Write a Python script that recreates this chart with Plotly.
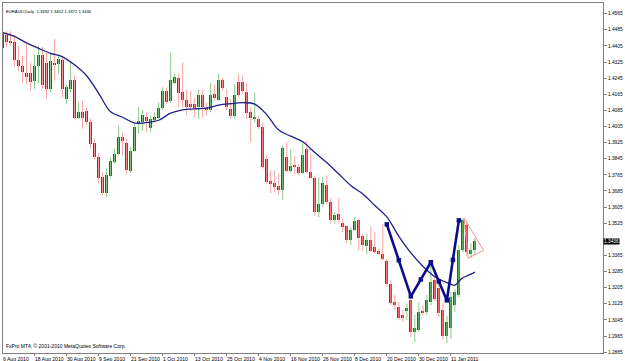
import plotly.graph_objects as go

# ---------------- data ----------------
opens = [1.4395, 1.4460, 1.4430, 1.4422, 1.4336, 1.4306, 1.4272, 1.4272, 1.4232, 1.4304,
         1.4361, 1.4321, 1.4192, 1.4319, 1.4315, 1.4333, 1.4143, 1.4192, 1.4235, 1.4045,
         1.4075, 1.4080, 1.4029, 1.3925, 1.3852, 1.3753, 1.3673, 1.3760, 1.3827, 1.3866,
         1.3955, 1.3922, 1.3783, 1.3885, 1.4018, 1.4025, 1.4050, 1.3998, 1.4037, 1.4047,
         1.4097, 1.4182, 1.4133, 1.4223, 1.4248, 1.4174, 1.4136, 1.4117, 1.4117, 1.4100,
         1.4163, 1.4093, 1.4087, 1.4166, 1.4138, 1.4237, 1.4149, 1.4092, 1.4059, 1.4228,
         1.4228, 1.4174, 1.4075, 1.4047, 1.4042, 1.4004, 1.3844, 1.3733, 1.3724, 1.3712,
         1.3692, 1.3856, 1.3783, 1.3813, 1.3806, 1.3775, 1.3894, 1.3781, 1.3750, 1.3580,
         1.3618, 1.3717, 1.3630, 1.3539, 1.3569, 1.3526, 1.3509, 1.3443, 1.3493, 1.3539,
         1.3460, 1.3410, 1.3440, 1.3407, 1.3385, 1.3374, 1.3336, 1.3221, 1.3132, 1.3110,
         1.3069, 1.3088, 1.3143, 1.2986, 1.2994, 1.3088, 1.3085, 1.3134, 1.3242, 1.3201,
         1.3093, 1.2965, 1.3006, 1.3118, 1.3168, 1.3390, 1.3514, 1.3371, 1.3392]
highs = [1.4529, 1.4479, 1.4479, 1.4460, 1.4405, 1.4356, 1.4415, 1.4321, 1.4361, 1.4405,
         1.4400, 1.4371, 1.4371, 1.4440, 1.4356, 1.4348, 1.4212, 1.4331, 1.4257, 1.4128,
         1.4133, 1.4098, 1.4044, 1.3945, 1.3871, 1.3777, 1.3796, 1.3851, 1.3895, 1.4009,
         1.3975, 1.3945, 1.3902, 1.4014, 1.4100, 1.4088, 1.4075, 1.4059, 1.4075, 1.4124,
         1.4199, 1.4199, 1.4372, 1.4267, 1.4267, 1.4322, 1.4187, 1.4182, 1.4149, 1.4187,
         1.4187, 1.4124, 1.4223, 1.4216, 1.4268, 1.4248, 1.4191, 1.4141, 1.4216, 1.4265,
         1.4257, 1.4223, 1.4100, 1.4174, 1.4059, 1.4025, 1.3861, 1.3786, 1.3786, 1.3770,
         1.3910, 1.3926, 1.3894, 1.3861, 1.3820, 1.3926, 1.3935, 1.3869, 1.3762, 1.3753,
         1.3753, 1.3762, 1.3651, 1.3580, 1.3651, 1.3547, 1.3514, 1.3506, 1.3555, 1.3547,
         1.3473, 1.3473, 1.3506, 1.3481, 1.3399, 1.3523, 1.3349, 1.3242, 1.3168, 1.3134,
         1.3093, 1.3127, 1.3184, 1.3069, 1.3133, 1.3118, 1.3168, 1.3316, 1.3267, 1.3227,
         1.3127, 1.3064, 1.3183, 1.3197, 1.3415, 1.3550, 1.3534, 1.3425, 1.3452]
lows = [1.4346, 1.4400, 1.4405, 1.4301, 1.4281, 1.4222, 1.4217, 1.4182, 1.4192, 1.4222,
        1.4192, 1.4143, 1.4173, 1.4232, 1.4267, 1.4149, 1.4118, 1.4174, 1.4041, 1.4042,
        1.3994, 1.4014, 1.3895, 1.3841, 1.3722, 1.3663, 1.3654, 1.3752, 1.3821, 1.3861,
        1.3861, 1.3770, 1.3773, 1.3877, 1.3968, 1.3984, 1.3976, 1.3976, 1.4025, 1.4042,
        1.4087, 1.4120, 1.4124, 1.4217, 1.4100, 1.4100, 1.4059, 1.4083, 1.4050, 1.4042,
        1.4050, 1.4059, 1.4075, 1.4133, 1.4133, 1.4182, 1.4087, 1.4042, 1.4042, 1.4149,
        1.4166, 1.4042, 1.3926, 1.4025, 1.3993, 1.3795, 1.3721, 1.3674, 1.3679, 1.3663,
        1.3641, 1.3778, 1.3778, 1.3770, 1.3762, 1.3770, 1.3770, 1.3745, 1.3564, 1.3555,
        1.3605, 1.3622, 1.3523, 1.3523, 1.3523, 1.3481, 1.3424, 1.3415, 1.3486, 1.3387,
        1.3387, 1.3371, 1.3382, 1.3374, 1.3366, 1.3341, 1.3209, 1.3118, 1.3093, 1.3044,
        1.3035, 1.3044, 1.2960, 1.2935, 1.2985, 1.3069, 1.3069, 1.3118, 1.3138, 1.3060,
        1.2945, 1.2930, 1.2950, 1.3085, 1.3158, 1.3381, 1.3361, 1.3351, 1.3372]
closes = [1.4465, 1.4425, 1.4418, 1.4336, 1.4306, 1.4274, 1.4252, 1.4227, 1.4304, 1.4361,
          1.4211, 1.4192, 1.4331, 1.4309, 1.4342, 1.4191, 1.4199, 1.4235, 1.4045, 1.4075,
          1.4047, 1.4025, 1.3920, 1.3852, 1.3747, 1.3673, 1.3762, 1.3836, 1.3869, 1.3955,
          1.3931, 1.3790, 1.3882, 1.4004, 1.4030, 1.4064, 1.4030, 1.4042, 1.4050, 1.4097,
          1.4182, 1.4129, 1.4237, 1.4252, 1.4169, 1.4136, 1.4100, 1.4100, 1.4097, 1.4163,
          1.4100, 1.4087, 1.4163, 1.4146, 1.4237, 1.4196, 1.4100, 1.4059, 1.4163, 1.4163,
          1.4179, 1.4070, 1.4047, 1.4052, 1.4004, 1.3803, 1.3729, 1.3721, 1.3704, 1.3692,
          1.3899, 1.3786, 1.3811, 1.3806, 1.3775, 1.3864, 1.3778, 1.3750, 1.3580, 1.3618,
          1.3726, 1.3630, 1.3539, 1.3564, 1.3539, 1.3506, 1.3443, 1.3493, 1.3535, 1.3453,
          1.3415, 1.3443, 1.3388, 1.3382, 1.3374, 1.3346, 1.3221, 1.3127, 1.3118, 1.3052,
          1.3052, 1.3102, 1.2985, 1.3003, 1.3084, 1.3081, 1.3143, 1.3231, 1.3151, 1.3077,
          1.2965, 1.3034, 1.3158, 1.3183, 1.3390, 1.3539, 1.3381, 1.3390, 1.3436]

ma_bars = [0, 3, 6, 9, 12, 15, 18, 21, 24, 27, 30, 33, 36, 39, 42, 45, 48, 51, 54, 57,
           60, 63, 66, 69, 72, 75, 78, 81, 84, 87, 90, 93, 96, 99, 102, 105, 108, 111,
           113, 114, 115, 117, 118]
ma_values = [1.4471, 1.4452, 1.4420, 1.4393, 1.4368, 1.4351, 1.4311, 1.4257, 1.4171, 1.4078,
             1.4051, 1.4022, 1.4025, 1.4036, 1.4071, 1.4088, 1.4092, 1.4097, 1.4111, 1.4118,
             1.4123, 1.4116, 1.4064, 1.3987, 1.3957, 1.3929, 1.3876, 1.3826, 1.3769, 1.3712,
             1.3670, 1.3613, 1.3556, 1.3460, 1.3378, 1.3311, 1.3259, 1.3230,
             1.3217, 1.3237, 1.3254, 1.3272, 1.3282]

pattern_bars = [96, 99, 102, 104.5, 107, 109, 111, 112.5, 114]
pattern_values = [1.3519, 1.3341, 1.3162, 1.3246, 1.3331, 1.3236, 1.3142, 1.3343, 1.3539]

triangle_bars = [115.3, 120.2, 116.3, 115.3]
triangle_values = [1.3550, 1.3390, 1.3352, 1.3550]

date_labels = ['6 Aug 2010', '18 Aug 2010', '30 Aug 2010', '9 Sep 2010', '21 Sep 2010',
               '1 Oct 2010', '13 Oct 2010', '25 Oct 2010', '4 Nov 2010', '16 Nov 2010',
               '26 Nov 2010', '8 Dec 2010', '20 Dec 2010', '30 Dec 2010', '11 Jan 2011']
date_bars = [0, 8, 16, 24, 32, 40, 48, 56, 64, 72, 80, 88, 96, 104, 112]

price_ticks = [1.2885, 1.2965, 1.3045, 1.3125, 1.3205, 1.3285, 1.3365, 1.3525, 1.3605,
               1.3685, 1.3765, 1.3845, 1.3925, 1.4005, 1.4085, 1.4165, 1.4245, 1.4325,
               1.4405, 1.4485, 1.4565]
last_price = 1.3436
title_text = "EURAUD,Daily  1.3392 1.3452 1.3372 1.3436"
footer_text = "FxPro MT4, \u00a9 2001-2010 MetaQuotes Software Corp."

# ---------------- figure ----------------
n = len(opens)
bars_idx = list(range(n))
up = [c >= o for o, c in zip(opens, closes)]

fig = go.Figure()

# wicks
for is_up, col in [(True, '#8cc88c'), (False, '#f7a3a3')]:
    wx, wy = [], []
    for i in bars_idx:
        if up[i] == is_up:
            wx += [i, i, None]
            wy += [lows[i], highs[i], None]
    fig.add_trace(go.Scatter(x=wx, y=wy, mode='lines', line=dict(color=col, width=1),
                             hoverinfo='skip', showlegend=False))

# bodies
fig.add_trace(go.Bar(
    x=bars_idx,
    base=[min(o, c) for o, c in zip(opens, closes)],
    y=[max(abs(c - o), 0.0002) for o, c in zip(opens, closes)],
    width=0.74,
    marker=dict(color=['#008000' if u else '#ff0000' for u in up], line=dict(width=0)),
    showlegend=False, hoverinfo='skip'))

# moving average
fig.add_trace(go.Scatter(x=ma_bars, y=ma_values, mode='lines', line_shape='spline',
                         line=dict(color='#20208c', width=1.3), showlegend=False))

# harmonic zig-zag
fig.add_trace(go.Scatter(x=pattern_bars, y=pattern_values, mode='lines+markers',
                         line=dict(color='#0c0c8c', width=2.6),
                         marker=dict(symbol='square', size=4.5, color='#0c0c8c'),
                         showlegend=False))

# triangle
fig.add_trace(go.Scatter(x=triangle_bars, y=triangle_values, mode='lines',
                         line=dict(color='#f29090', width=1), showlegend=False))

px_per_bar = 4.03
x0 = 0.124
fig.update_layout(
    width=625, height=361,
    margin=dict(l=2, r=19, t=2, b=8),
    paper_bgcolor='white', plot_bgcolor='white',
    bargap=0, barmode='overlay',
    font=dict(family='Liberation Sans, Arial, sans-serif', color='black'),
    xaxis=dict(range=[x0, x0 + 604 / px_per_bar], showgrid=False, zeroline=False,
               showline=True, mirror=True, linecolor='#808080', linewidth=1,
               tickvals=date_bars, ticktext=['' for _ in date_bars],
               ticks='outside', ticklen=2, tickcolor='#808080', fixedrange=True),
    yaxis=dict(range=[1.28806, 1.46180], side='right', showgrid=False, zeroline=False,
               showline=True, mirror=True, linecolor='#808080', linewidth=1,
               tickvals=price_ticks, ticktext=[f'{v:.4f}' for v in price_ticks],
               ticks='outside', ticklen=3, tickcolor='#808080',
               tickfont=dict(size=4.8, color='black'), ticklabelstandoff=0),
)

# date labels (left-aligned at the bar, MT4 style); anchored half a bar to the right
# so the first one stays inside the axis range
for b, t in zip(date_bars, date_labels):
    fig.add_annotation(x=b + 0.5, y=0, xref='x', yref='paper', text=t, showarrow=False,
                       xanchor='left', yanchor='top', xshift=-4, yshift=-1,
                       font=dict(size=5.1, color='black'))

# current price box
fig.add_annotation(x=1, y=last_price, xref='paper', yref='y', text=f'{last_price:.4f}',
                   showarrow=False, xanchor='left', yanchor='middle', xshift=0,
                   bgcolor='black', font=dict(size=4.8, color='white'), borderpad=0)

# title and footer
fig.add_annotation(x=0, y=1, xref='paper', yref='paper', text=title_text, showarrow=False,
                   xanchor='left', yanchor='top', xshift=1, yshift=-4,
                   font=dict(size=4.2, color='black'))
fig.add_annotation(x=0, y=0, xref='paper', yref='paper', text=footer_text, showarrow=False,
                   xanchor='left', yanchor='bottom', xshift=1, yshift=2,
                   font=dict(size=5.0, color='black'))

fig.write_html("out.html")
